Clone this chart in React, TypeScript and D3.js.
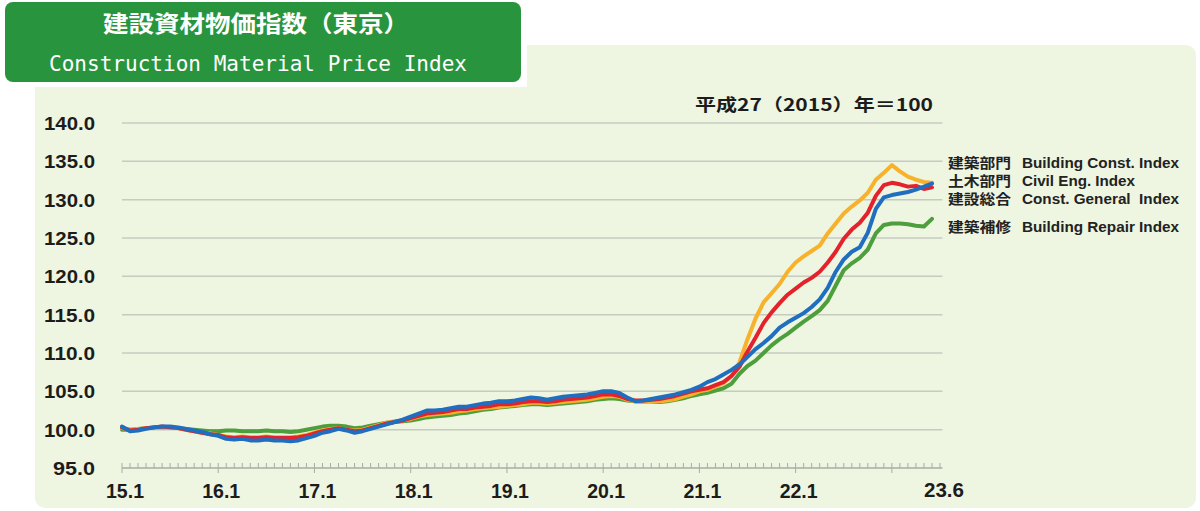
import React from 'react';
import * as d3 from 'd3';

// monthly values, 2015.1 .. 2023.6 (平成27年 = 100)
const buildingConst = [
  100.2, 100.0, 100.1, 100.2, 100.3, 100.3, 100.3, 100.2, 100.0, 99.8, 99.6, 99.5,
  99.3, 99.1, 99.0, 99.1, 99.0, 99.0, 99.1, 99.0, 99.0, 99.0, 99.1, 99.3,
  99.6, 99.9, 100.1, 100.2, 100.0, 99.9, 100.0, 100.3, 100.6, 100.9, 101.1, 101.2,
  101.4, 101.7, 101.9, 102.0, 102.1, 102.2, 102.4, 102.5, 102.7, 102.8, 102.9, 103.0,
  103.1, 103.2, 103.3, 103.5, 103.5, 103.4, 103.5, 103.6, 103.7, 103.8, 103.9, 104.1,
  104.3, 104.4, 104.3, 103.9, 103.7, 103.6, 103.6, 103.7, 103.8, 104.0, 104.3, 104.6,
  105.0, 105.2, 105.6, 106.1, 107.0, 108.8, 111.8, 114.5, 116.6, 117.8, 119.0, 120.6,
  121.8, 122.6, 123.3, 124.0, 125.6, 126.9, 128.2, 129.1, 129.9, 130.9, 132.6, 133.5,
  134.5, 133.7, 133.0, 132.6, 132.3, 132.2,
];

const civilEng = [
  100.3, 99.9, 100.0, 100.2, 100.3, 100.4, 100.3, 100.2, 100.0, 99.8, 99.6, 99.4,
  99.3, 99.0, 98.9, 99.0, 98.9, 98.9, 99.0, 98.9, 98.9, 98.9, 99.0, 99.2,
  99.5, 99.8, 100.0, 100.2, 100.0, 99.8, 99.9, 100.2, 100.5, 100.8, 101.0, 101.2,
  101.5, 101.8, 102.1, 102.2, 102.3, 102.5, 102.7, 102.7, 102.9, 103.0, 103.1, 103.3,
  103.3, 103.4, 103.6, 103.7, 103.7, 103.6, 103.7, 103.9, 104.0, 104.1, 104.2, 104.4,
  104.6, 104.6, 104.4, 104.0, 103.8, 103.8, 103.9, 104.0, 104.2, 104.4, 104.7, 105.0,
  105.2, 105.4, 105.8, 106.2, 107.0, 108.2, 110.2, 112.0, 113.9, 115.3, 116.5, 117.6,
  118.4, 119.2, 119.8, 120.6, 121.8, 123.2, 124.9, 126.1, 127.0, 128.3, 130.5, 131.9,
  132.2, 132.0, 131.7, 131.8, 131.4, 131.6,
];

const constGeneral = [
  100.4, 99.8, 99.9, 100.1, 100.3, 100.4, 100.4, 100.3, 100.1, 99.9, 99.7, 99.4,
  99.2, 98.8, 98.7, 98.8, 98.6, 98.6, 98.7, 98.6, 98.6, 98.5, 98.6, 98.9,
  99.2, 99.6, 99.8, 100.1, 99.9, 99.6, 99.8, 100.1, 100.4, 100.7, 101.0, 101.3,
  101.7, 102.1, 102.5, 102.5, 102.6, 102.8, 103.0, 103.0, 103.2, 103.4, 103.5, 103.7,
  103.7, 103.8, 104.0, 104.2, 104.1, 103.9, 104.1, 104.3, 104.4, 104.5, 104.6, 104.8,
  105.0, 105.0, 104.8, 104.2, 103.7, 103.8, 104.0, 104.2, 104.4, 104.6, 104.9, 105.2,
  105.6, 106.2, 106.6, 107.2, 107.8, 108.5, 109.5, 110.5, 111.3, 112.2, 113.3, 114.0,
  114.6, 115.2, 116.0, 117.0, 118.5, 120.6, 122.2, 123.2, 123.8, 125.7, 128.8, 130.3,
  130.6, 130.8, 131.0, 131.3, 131.7, 132.1,
];

const buildingRepair = [
  100.0, 100.0, 100.1, 100.2, 100.3, 100.3, 100.3, 100.2, 100.1, 100.0, 99.9, 99.8,
  99.8, 99.9, 99.9, 99.8, 99.8, 99.8, 99.9, 99.8, 99.8, 99.7, 99.8, 100.0,
  100.2, 100.4, 100.5, 100.5, 100.4, 100.2, 100.3, 100.5, 100.7, 100.9, 101.0, 101.1,
  101.2, 101.4, 101.6, 101.7, 101.8, 101.9, 102.1, 102.2, 102.4, 102.6, 102.7, 102.9,
  103.0, 103.1, 103.2, 103.3, 103.3, 103.2, 103.3, 103.4, 103.5, 103.6, 103.7, 103.9,
  104.0, 104.1, 104.0, 103.8, 103.7, 103.6, 103.6, 103.6, 103.7, 103.9, 104.1, 104.4,
  104.6, 104.8, 105.1, 105.4, 106.0, 107.3, 108.3, 109.0, 110.0, 111.0, 111.8, 112.5,
  113.3, 114.1, 114.8, 115.6, 116.8, 118.8, 120.8, 121.7, 122.4, 123.5, 125.6, 126.7,
  126.9, 126.9, 126.8, 126.6, 126.5, 127.5,
];

const yTicks = [95, 100, 105, 110, 115, 120, 125, 130, 135, 140];
const yearLabels = ['15.1', '16.1', '17.1', '18.1', '19.1', '20.1', '21.1', '22.1'];
const lastLabel = '23.6';

const legendJa = ['建築部門', '土木部門', '建設総合', '建築補修'];
const legendEn = ['Building Const. Index', 'Civil Eng. Index', 'Const. General  Index', 'Building Repair Index'];

const colors = {
  orange: '#f8b12b',
  red: '#e4222b',
  blue: '#1f6ec0',
  green: '#4d9e3c',
};

const numFont = "'Liberation Sans', Arial, sans-serif";
const jaFont = "'Noto Sans CJK JP', sans-serif";

export default function App() {
  const x = d3.scaleLinear().domain([0, 102.5]).range([122, 944]);
  const y = d3.scaleLinear().domain([95, 140]).range([468, 123]);

  const line = d3.line<number>()
    .x((d, i) => x(i))
    .y(d => y(d));

  // drawn bottom to top
  const lines = [
    { key: 'repair', values: buildingRepair, color: colors.green },
    { key: 'building', values: buildingConst, color: colors.orange },
    { key: 'civil', values: civilEng, color: colors.red },
    { key: 'general', values: constGeneral, color: colors.blue },
  ];

  const legendY = [162.5, 180.5, 198.5, 227];
  const axisY = y(95);
  const monthTicks = d3.range(0, 103);

  return (
    <svg width={1200} height={511} style={{ display: 'block', position: 'absolute', left: 0, top: 0 }}>
      <rect x={0} y={0} width={1200} height={511} fill="#ffffff" />
      <rect x={35} y={45} width={1161} height={463} rx={10} fill="#eef5e1" />
      <rect x={0} y={0} width={527} height={87} fill="#ffffff" />
      <rect x={5} y={2} width={516} height={80} rx={8} fill="#28943d" />
      <text x={256} y={32} textAnchor="middle" fill="#fff" fontFamily={jaFont} fontWeight={700}
        fontSize={23} textLength={306} lengthAdjust="spacingAndGlyphs">建設資材物価指数（東京）</text>
      <text x={258} y={71} textAnchor="middle" fill="#fff" fontFamily="'DejaVu Sans Mono', monospace"
        fontSize={22} textLength={418} lengthAdjust="spacingAndGlyphs">Construction Material Price Index</text>

      {/* grid */}
      {yTicks.filter(t => t > 95).map(t => (
        <line key={t} x1={x(0)} x2={x(102.3)} y1={y(t)} y2={y(t)} stroke="#c6cbc0" strokeWidth={1.5} />
      ))}
      {yTicks.map(t => (
        <text key={'l' + t} x={95} y={y(t) + 7} textAnchor="end" fontFamily={numFont} fontWeight={700}
          fontSize={19} fill="#1c1c1c" textLength={t >= 100 ? 51 : 42} lengthAdjust="spacingAndGlyphs">
          {t.toFixed(1)}
        </text>
      ))}

      {/* x axis */}
      <line x1={x(0)} x2={x(102.3)} y1={axisY} y2={axisY} stroke="#a9ada4" strokeWidth={1.5} />
      {monthTicks.map(m => (
        <line key={'m' + m} x1={x(m)} x2={x(m)} y1={axisY - 5} y2={m % 12 === 0 ? axisY + 5 : axisY}
          stroke="#a9ada4" strokeWidth={1} />
      ))}
      {yearLabels.map((lab, i) => (
        <text key={lab} x={x(i * 12) + 3} y={498} textAnchor="middle" fontFamily={numFont} fontWeight={700}
          fontSize={21} fill="#1c1c1c" textLength={38} lengthAdjust="spacingAndGlyphs">{lab}</text>
      ))}
      <text x={x(102.5)} y={497} textAnchor="middle" fontFamily={numFont} fontWeight={700}
        fontSize={21} fill="#1c1c1c" textLength={40} lengthAdjust="spacingAndGlyphs">{lastLabel}</text>

      {/* base note */}
      <text x={695} y={111} fontFamily={jaFont} fontWeight={700} fontSize={17} fill="#1c1c1c"
        textLength={238} lengthAdjust="spacingAndGlyphs">平成27（2015）年＝100</text>

      {/* series */}
      {lines.map(s => (
        <path key={s.key} d={line(s.values) || ''} fill="none" stroke={s.color} strokeWidth={4}
          strokeLinejoin="round" strokeLinecap="round" />
      ))}

      {/* legend */}
      {legendJa.map((ja, i) => (
        <g key={ja}>
          <text x={948} y={legendY[i] + 5} fontFamily={jaFont} fontWeight={700} fontSize={14} fill="#222"
            textLength={63} lengthAdjust="spacingAndGlyphs">{ja}</text>
          <text x={1022} y={legendY[i] + 5} fontFamily={numFont} fontWeight={600} fontSize={14.5} fill="#222"
            textLength={i === 1 ? 113 : 157} lengthAdjust="spacingAndGlyphs" style={{ whiteSpace: 'pre' }}>{legendEn[i]}</text>
        </g>
      ))}
    </svg>
  );
}
